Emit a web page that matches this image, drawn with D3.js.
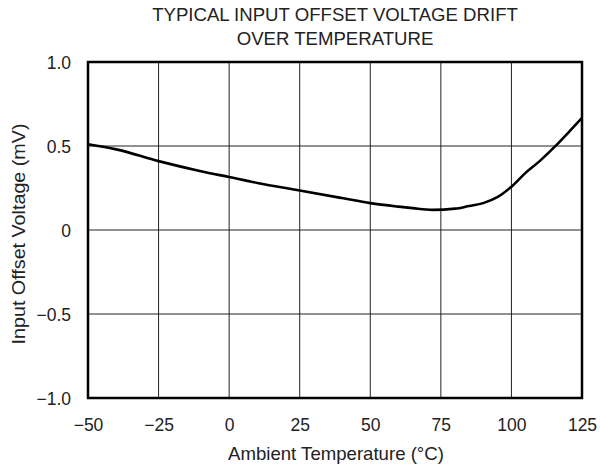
<!DOCTYPE html>
<html><head><meta charset="utf-8">
<script src="https://cdn.jsdelivr.net/npm/d3@7/dist/d3.min.js"></script>
<style>body{margin:0;background:#fff}text{font-family:"Liberation Sans",Arial,sans-serif;fill:#222}</style>
</head><body><svg id="c" width="600" height="469"></svg>
<script>
const temperature = [-50,-40,-25,-10,0,10,25,40,50,60,65,72,80,85,90,95,100,105,110,115,120,125];
const offsetVoltage = [0.51,0.48,0.41,0.35,0.315,0.28,0.235,0.19,0.16,0.139,0.13,0.12,0.127,0.143,0.16,0.195,0.258,0.34,0.41,0.49,0.577,0.667];
const xTicks = [-50,-25,0,25,50,75,100,125];
const yTicks = [-1.0,-0.5,0,0.5,1.0];
const yTickLabels = ["\u22121.0","\u22120.5","0","0.5","1.0"];
const xTickLabels = ["\u221250","\u221225","0","25","50","75","100","125"];

const svg = d3.select("#c");
const L=88,R=582,T=62,B=398;
const x = d3.scaleLinear().domain([-50,125]).range([L,R]);
const y = d3.scaleLinear().domain([-1,1]).range([B,T]);
const FONT = "Liberation Sans, Arial, sans-serif";

// grid
svg.append("g").selectAll("line").data(xTicks.slice(1,-1)).join("line")
  .attr("x1",d=>x(d)).attr("x2",d=>x(d)).attr("y1",T).attr("y2",B)
  .attr("stroke","#222").attr("stroke-width",1);
svg.append("g").selectAll("line").data(yTicks.slice(1,-1)).join("line")
  .attr("y1",d=>y(d)).attr("y2",d=>y(d)).attr("x1",L).attr("x2",R)
  .attr("stroke","#222").attr("stroke-width",1);

// curve
svg.append("path").datum(temperature.map((t,i)=>[t,offsetVoltage[i]]))
  .attr("fill","none").attr("stroke","#000").attr("stroke-width",2.6)
  .attr("d",d3.line().x(d=>x(d[0])).y(d=>y(d[1])).curve(d3.curveMonotoneX));

// frame
svg.append("rect").attr("x",L).attr("y",T).attr("width",R-L).attr("height",B-T)
  .attr("fill","none").attr("stroke","#000").attr("stroke-width",2.5);

// axes labels
const xa = d3.axisBottom(x).tickValues(xTicks).tickSize(0).tickPadding(21)
  .tickFormat((d,i)=>xTickLabels[i]);
const gx = svg.append("g").attr("transform",`translate(0,${B})`).call(xa);
gx.select(".domain").remove();
gx.selectAll("text").attr("font-size",17.5).attr("fill","#222").style("font-family",FONT);

const ya = d3.axisLeft(y).tickValues(yTicks).tickSize(0).tickPadding(17)
  .tickFormat((d,i)=>yTickLabels[i]);
const gy = svg.append("g").attr("transform",`translate(${L},0)`).call(ya);
gy.select(".domain").remove();
gy.selectAll("text").attr("font-size",17.5).attr("fill","#222").style("font-family",FONT)
  .attr("dy","0.36em");

// titles
svg.append("text").attr("x",335).attr("y",20.7).attr("text-anchor","middle").attr("font-size",18.6).text("TYPICAL INPUT OFFSET VOLTAGE DRIFT");
svg.append("text").attr("x",335).attr("y",45).attr("text-anchor","middle").attr("font-size",18.6).text("OVER TEMPERATURE");
svg.append("text").attr("x",336).attr("y",460).attr("text-anchor","middle").attr("font-size",18.6).text("Ambient Temperature (\u00B0C)");
svg.append("text").attr("transform","translate(25,234) rotate(-90) scale(1.06,1)").attr("text-anchor","middle").attr("font-size",18.6).text("Input Offset Voltage (mV)");
</script></body></html>
